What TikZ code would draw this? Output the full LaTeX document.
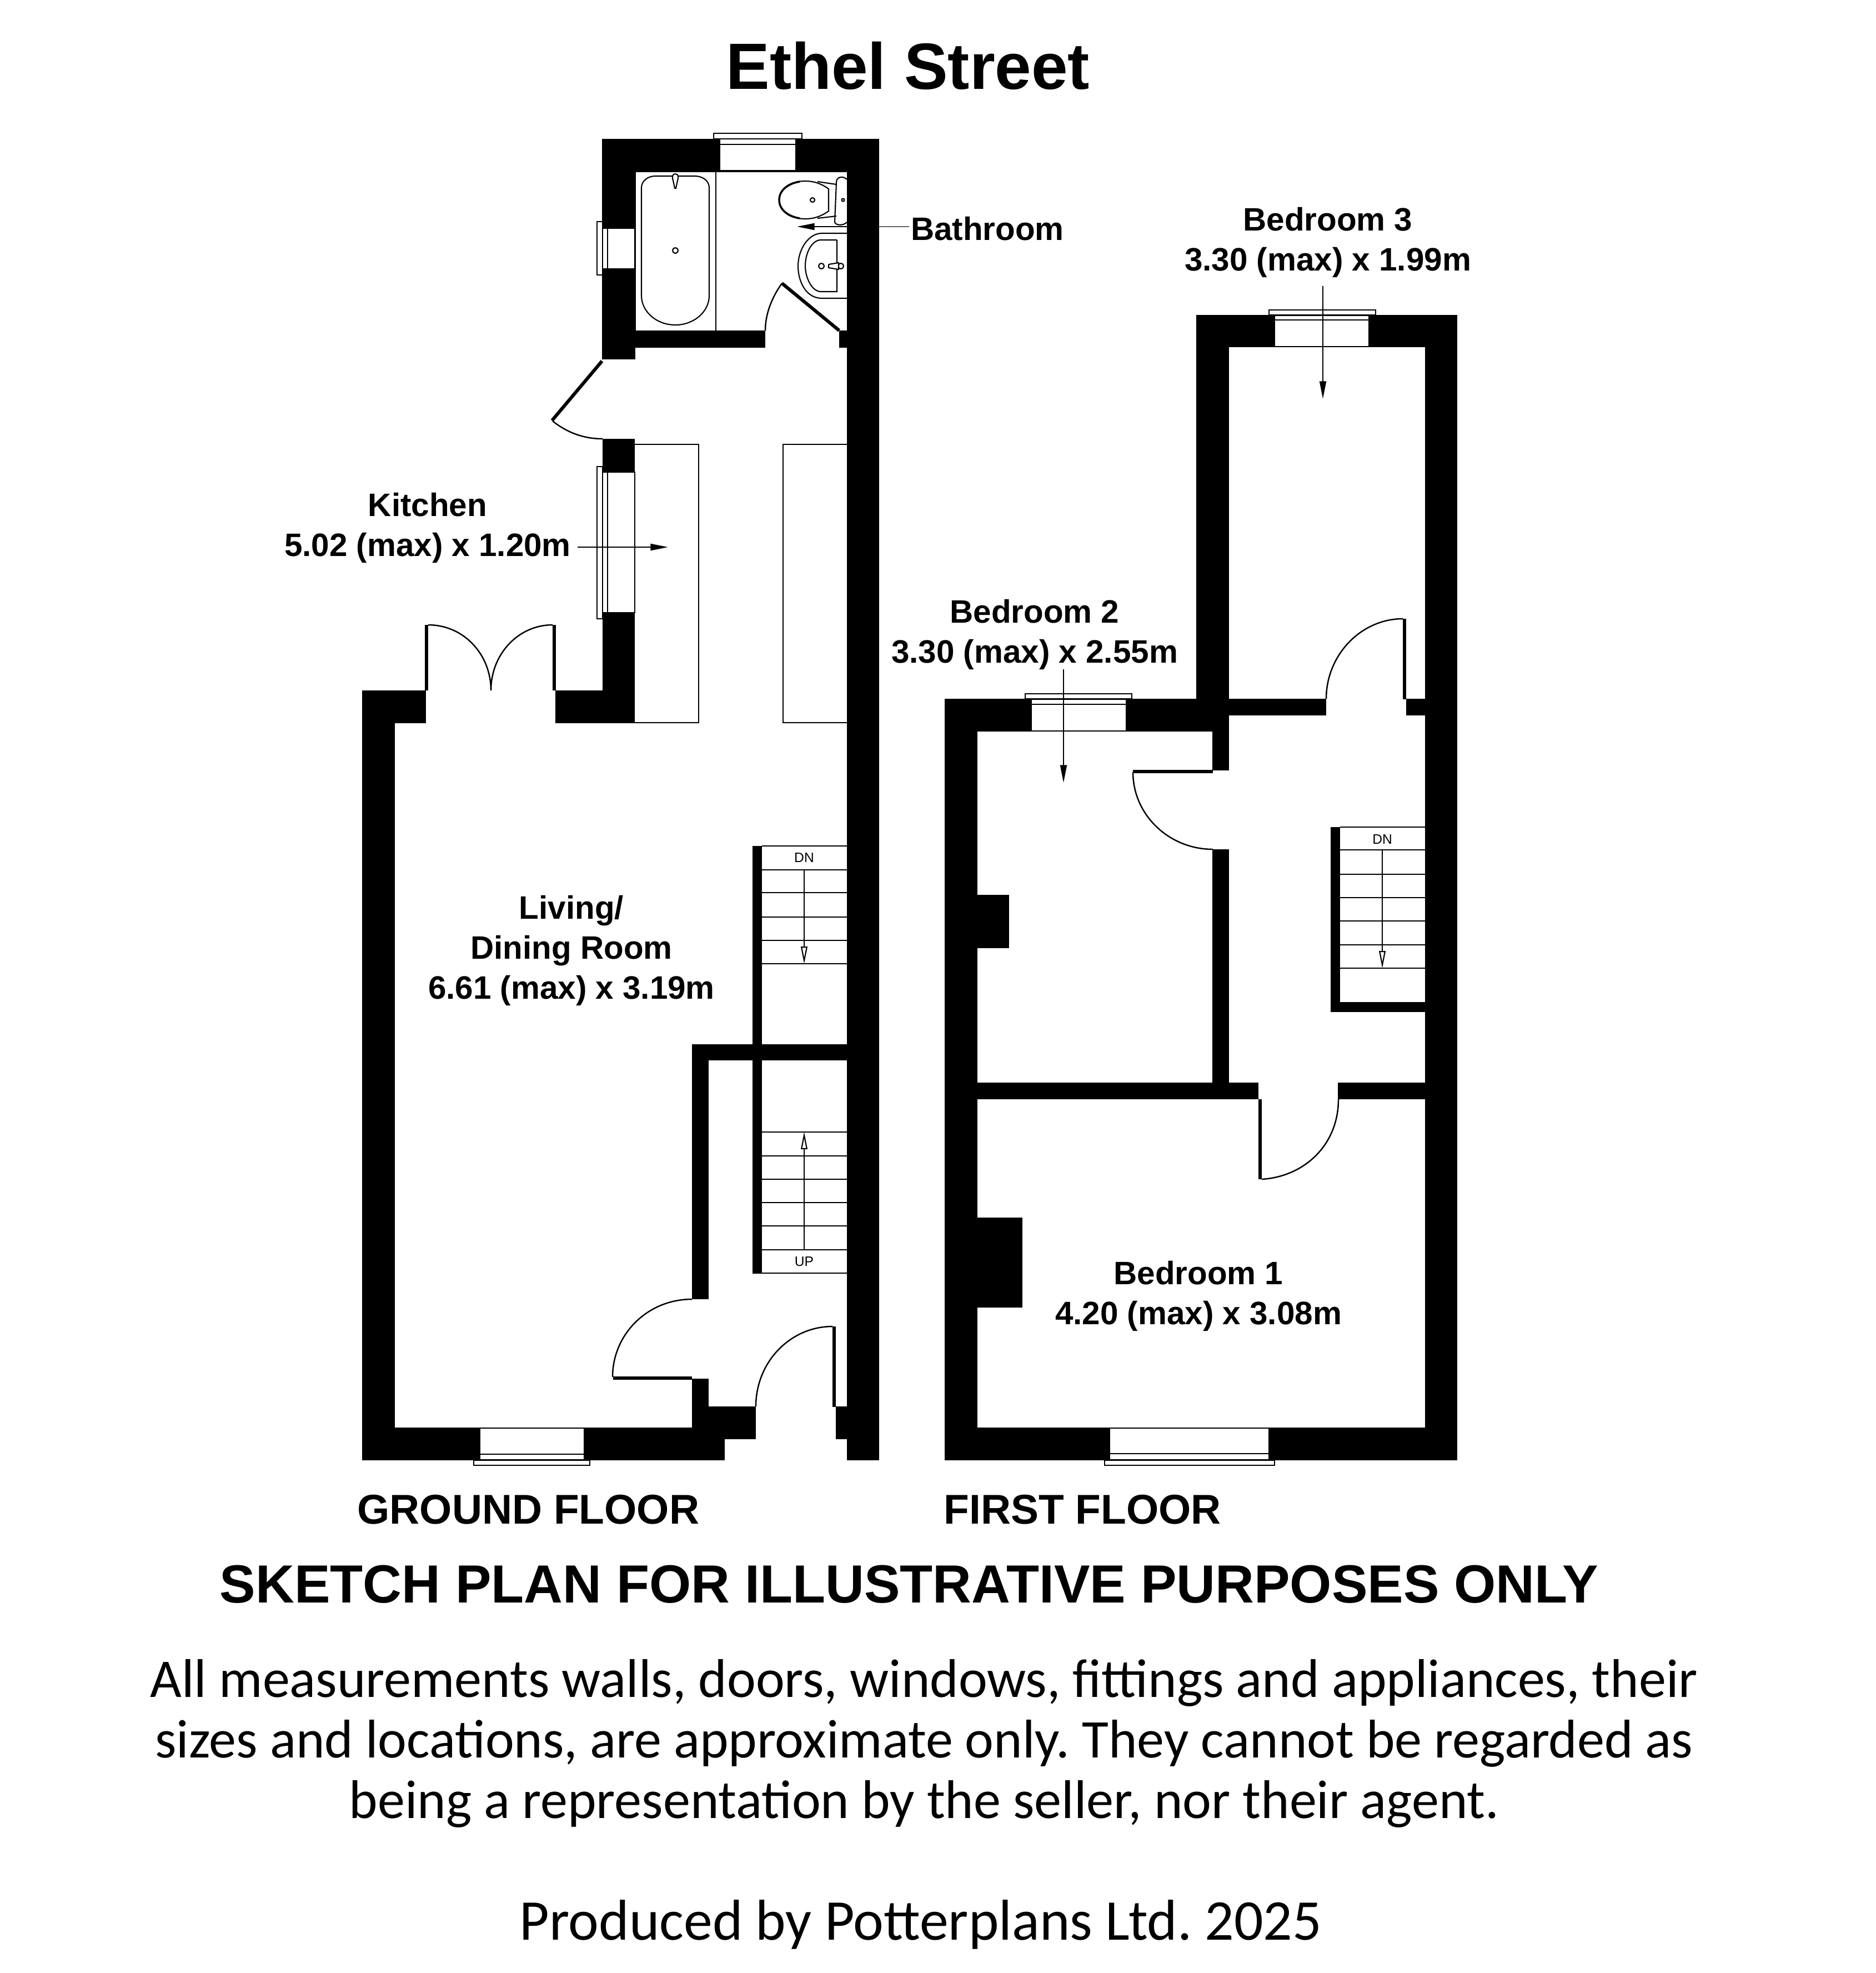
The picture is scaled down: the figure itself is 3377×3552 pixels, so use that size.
\documentclass[tikz,border=0pt]{standalone}
\usepackage{fontspec}
\setmainfont{Liberation Sans}
\newfontfamily\notefont{Carlito}
\usetikzlibrary{arrows.meta}
\frenchspacing
\tikzset{
  wall/.style={fill=black},
  thinline/.style={draw=black,line width=.6pt},
  opening/.style={draw=black,line width=.6pt,fill=white},
  leaf/.style={draw=black,line width=1.7pt},
  swing/.style={draw=black,line width=.7pt},
  dimline/.style={draw=black,line width=.6pt,-{Triangle[length=9pt,width=3.4pt]}},
  stairline/.style={draw=black,line width=.6pt,-{Triangle[open,fill=white,length=8.8pt,width=3.3pt]}},
  roomlabel/.style={font=\fontsize{16.6pt}{20.5pt}\selectfont\bfseries,align=center},
  floorlabel/.style={font=\fontsize{21.3pt}{25pt}\selectfont\bfseries,anchor=west},
  stairlabel/.style={font=\fontsize{7pt}{8pt}\selectfont},
  notelabel/.style={font=\notefont\fontsize{27.9pt}{31pt}\selectfont,align=center}
}
\begin{document}
\begin{tikzpicture}[x=.01cm,y=-.01cm]
        \useasboundingbox (0,0) rectangle (3377,3552);
        % ground floor walls
        \fill [wall] (1084,250) rectangle (1296,309);
        \fill [wall] (1433,250) rectangle (1583,309);
        \fill [wall] (1084,250) rectangle (1144,411);
        \fill [wall] (1084,484) rectangle (1144,647);
        \fill [wall] (1144,595) rectangle (1378,626);
        \fill [wall] (1511,595) rectangle (1525,626);
        \fill [wall] (1525,250) rectangle (1583,2629);
        \fill [wall] (1085,790) rectangle (1143,850);
        \fill [wall] (1085,1103) rectangle (1143,1302);
        \fill [wall] (1000,1243) rectangle (1143,1302);
        \fill [wall] (652,1243) rectangle (767,1302);
        \fill [wall] (652,1243) rectangle (711,2629);
        \fill [wall] (652,2570) rectangle (864,2629);
        \fill [wall] (1052,2570) rectangle (1305,2629);
        \fill [wall] (1246,1880) rectangle (1525,1909);
        \fill [wall] (1246,1880) rectangle (1276,2339);
        \fill [wall] (1246,2482) rectangle (1276,2629);
        \fill [wall] (1276,2532) rectangle (1361,2591);
        \fill [wall] (1505,2532) rectangle (1525,2591);
        \fill [wall] (1355,1523) rectangle (1372,2292);
        % ground floor windows
        \draw [opening] (1285,240) rectangle (1444,250);
        \draw [opening] (1296,250) rectangle (1433,307);
        \draw [thinline] (1296,260)--(1433,260);
        \draw [opening] (1075,399) rectangle (1085,495);
        \draw [opening] (1085,411) rectangle (1143,484);
        \draw [thinline] (1094,411)--(1094,484);
        \draw [opening] (1075,840) rectangle (1085,1114);
        \draw [opening] (1085,850) rectangle (1143,1103);
        \draw [thinline] (1094,850)--(1094,1103);
        \draw [opening] (853,2629) rectangle (1062,2638);
        \draw [opening] (864,2571) rectangle (1052,2628);
        \draw [thinline] (864,2618)--(1052,2618);
        % kitchen units
        \draw [thinline] (1143,800)--(1258,800)--(1258,1301)--(1143,1301);
        \draw [thinline] (1525,800)--(1410,800)--(1410,1301)--(1525,1301);
        % bathroom fittings
        \draw [thinline] (1144,309)--(1525,309);
        \draw [thinline] (1144,595)--(1144,309);
        \draw [thinline] (1289,309)--(1289,595);
        \draw [thinline] (1180,317)--(1251,317)
            .. controls (1266,317) and (1277,326) .. (1277,338)--(1277,532)
            .. controls (1277,561) and (1250,585) .. (1216,585)
            .. controls (1182,585) and (1155,561) .. (1155,532)--(1155,338)
            .. controls (1155,326) and (1166,317) .. (1180,317);
        \draw [thinline,fill=white] (1216,313) .. controls (1222,313) and (1222,320) .. (1220,325)
            -- (1217,339)--(1215,339)--(1212,325) .. controls (1210,320) and (1210,313) .. (1216,313);
        \draw [thinline] (1216,451) circle (5);
        \draw [thinline] (1492,340) .. controls (1478,330) and (1465,326) .. (1450,326)
            .. controls (1422,326) and (1403,340) .. (1403,360)
            .. controls (1403,380) and (1422,394) .. (1450,394)
            .. controls (1465,394) and (1478,390) .. (1492,380)--(1492,340);
        \draw [line width=1pt] (1440,327) .. controls (1420,330) and (1403,342) .. (1403,360)
            .. controls (1403,378) and (1420,390) .. (1440,393);
        \draw [thinline] (1472,327)--(1506,332);
        \draw [thinline] (1472,393)--(1506,389);
        \draw [thinline] (1525,323) .. controls (1518,316) and (1506,318) .. (1506,328)--(1503,400)
            .. controls (1505,406) and (1518,407) .. (1525,400);
        \draw [thinline] (1463,360) circle (4);
        \draw [thinline] (1518,360) circle (2.5);
        \draw [thinline] (1525,420)--(1480,420) .. controls (1455,420) and (1437,450) .. (1437,479)
            .. controls (1437,505) and (1450,537) .. (1480,537)--(1525,537);
        \draw [thinline] (1507,432)--(1478,432) .. controls (1462,432) and (1450,455) .. (1450,479)
            .. controls (1450,500) and (1462,525) .. (1478,525)--(1507,525)--(1507,432);
        \draw [thinline] (1479,479) circle (5);
        \draw [thinline] (1514,479) circle (5);
        \draw [thinline,fill=white] (1492,476)--(1510,473)--(1510,485)--(1492,482)--(1492,476);
        % ground floor doors
        \draw [leaf] (1511,595)--(1408,510);
        \draw [swing] (1378,595) .. controls (1378,565) and (1390,535) .. (1408,510);
        \draw [leaf] (1084,650)--(994,757);
        \draw [swing] (995,758) .. controls (1020,778) and (1050,790) .. (1085,790);
        \draw [leaf] (768,1125)--(768,1243);
        \draw [swing] (771,1125) .. controls (835,1125) and (884,1178) .. (884,1243);
        \draw [leaf] (998,1125)--(998,1243);
        \draw [swing] (995,1125) .. controls (933,1125) and (884,1178) .. (884,1243);
        \draw [leaf] (1104,2481)--(1246,2481);
        \draw [swing] (1103,2479) .. controls (1103,2403) and (1165,2339) .. (1246,2339);
        \draw [leaf] (1502,2388)--(1502,2533);
        \draw [swing] (1361,2532) .. controls (1361,2452) and (1423,2388) .. (1499,2388);
        % ground floor stairs
        \draw [thinline] (1372,1523)--(1525,1523);
        \draw [thinline] (1372,1566)--(1525,1566);
        \draw [thinline] (1372,1607)--(1525,1607);
        \draw [thinline] (1372,1651)--(1525,1651);
        \draw [thinline] (1372,1693)--(1525,1693);
        \draw [thinline] (1372,1735)--(1525,1735);
        \draw [stairline] (1448,1566)--(1448,1735);
        \node [stairlabel] (grounddn) at (1448,1544) {DN};
        \draw [thinline] (1372,2038)--(1525,2038);
        \draw [thinline] (1372,2081)--(1525,2081);
        \draw [thinline] (1372,2123)--(1525,2123);
        \draw [thinline] (1372,2165)--(1525,2165);
        \draw [thinline] (1372,2207)--(1525,2207);
        \draw [thinline] (1372,2250)--(1525,2250);
        \draw [thinline] (1355,2292)--(1525,2292);
        \draw [stairline] (1448,2250)--(1448,2038);
        \node [stairlabel] (groundup) at (1448,2271) {UP};
        % first floor walls
        \fill [wall] (1701,1258) rectangle (1857,1317);
        \fill [wall] (2028,1258) rectangle (2213,1317);
        \fill [wall] (1701,1258) rectangle (1760,2629);
        \fill [wall] (2154,567) rectangle (2213,1317);
        \fill [wall] (2154,567) rectangle (2295,625);
        \fill [wall] (2465,567) rectangle (2624,625);
        \fill [wall] (2566,567) rectangle (2624,2629);
        \fill [wall] (2213,1258) rectangle (2388,1288);
        \fill [wall] (2532,1258) rectangle (2566,1288);
        \fill [wall] (2183,1317) rectangle (2213,1387);
        \fill [wall] (2183,1529) rectangle (2213,1949);
        \fill [wall] (1760,1949) rectangle (2266,1979);
        \fill [wall] (2409,1949) rectangle (2566,1979);
        \fill [wall] (1760,1611) rectangle (1817,1707);
        \fill [wall] (1760,2192) rectangle (1841,2354);
        \fill [wall] (1701,2570) rectangle (1998,2629);
        \fill [wall] (2285,2570) rectangle (2624,2629);
        \fill [wall] (2396,1489) rectangle (2413,1822);
        \fill [wall] (2396,1804) rectangle (2566,1822);
        % first floor windows
        \draw [opening] (2285,558) rectangle (2477,567);
        \draw [opening] (2295,568) rectangle (2465,624);
        \draw [thinline] (2295,576)--(2465,576);
        \draw [opening] (1846,1249) rectangle (2038,1258);
        \draw [opening] (1857,1259) rectangle (2028,1316);
        \draw [thinline] (1857,1268)--(2028,1268);
        \draw [opening] (1989,2629) rectangle (2295,2638);
        \draw [opening] (1998,2571) rectangle (2285,2628);
        \draw [thinline] (1998,2617)--(2285,2617);
        % first floor doors
        \draw [leaf] (2529,1114)--(2529,1259);
        \draw [swing] (2388,1258) .. controls (2388,1180) and (2450,1114) .. (2526,1114);
        \draw [leaf] (2040,1389)--(2184,1389);
        \draw [swing] (2040,1390) .. controls (2040,1467) and (2105,1529) .. (2184,1529);
        \draw [leaf] (2269,1979)--(2269,2123);
        \draw [swing] (2272,2123) .. controls (2350,2118) and (2410,2060) .. (2410,1979);
        % first floor stairs
        \draw [thinline] (2413,1489)--(2566,1489);
        \draw [thinline] (2413,1530)--(2566,1530);
        \draw [thinline] (2413,1574)--(2566,1574);
        \draw [thinline] (2413,1616)--(2566,1616);
        \draw [thinline] (2413,1658)--(2566,1658);
        \draw [thinline] (2413,1701)--(2566,1701);
        \draw [thinline] (2413,1743)--(2566,1743);
        \draw [stairline] (2489,1530)--(2489,1743);
        \node [stairlabel] (firstdn) at (2489,1511) {DN};
        % room labels
        \node [roomlabel] (bathroom) at (1778,412) {Bathroom};
        \coordinate (bathleader) at (1637,408);
        \coordinate (bathtip) at (1435,408);
        \draw [thinline,draw=black!60] (bathleader)--(1583,408);
        \draw [dimline] (1525,408)--(bathtip);
        \node [roomlabel] (kitchen) at (770,950) {Kitchen\\5.02 (max) x 1.20m};
        \coordinate (kitchentip) at (1203,985);
        \draw [dimline] (1040,985)--(kitchentip);
        \node [roomlabel] (living) at (1029,1711) {Living/\\Dining Room\\6.61 (max) x 3.19m};
        \node [roomlabel] (bedone) at (2158,2333) {Bedroom 1\\4.20 (max) x 3.08m};
        \node [roomlabel] (bedtwo) at (1863,1142) {Bedroom 2\\3.30 (max) x 2.55m};
        \coordinate (bedtwotip) at (1915,1409);
        \draw [dimline] (1915,1205)--(bedtwotip);
        \node [roomlabel] (bedthree) at (2391,436) {Bedroom 3\\3.30 (max) x 1.99m};
        \coordinate (bedthreetip) at (2382,718);
        \draw [dimline] (2382,515)--(bedthreetip);
        % titles and notes
        \node [font=\fontsize{33.5pt}{40pt}\selectfont\bfseries] (title) at (1635,118) {Ethel Street};
        \node [floorlabel] (groundfloor) at (631,2718) {GROUND FLOOR};
        \node [floorlabel] (firstfloor) at (1687,2718) {FIRST FLOOR};
        \node [font=\fontsize{27.5pt}{32pt}\selectfont\bfseries] (sketchplan) at (1637,2852) {SKETCH PLAN FOR ILLUSTRATIVE PURPOSES ONLY};
        \node [notelabel] (disclaimer) at (1664,3139) {All measurements walls, doors, windows, fittings and appliances, their\\sizes and locations, are approximate only. They cannot be regarded as\\being a representation by the seller, nor their agent.};
        \node [font=\notefont\fontsize{29.5pt}{34pt}\selectfont] (producer) at (1658,3465) {Produced by Potterplans Ltd. 2025};
      \end{tikzpicture}
\end{document}
